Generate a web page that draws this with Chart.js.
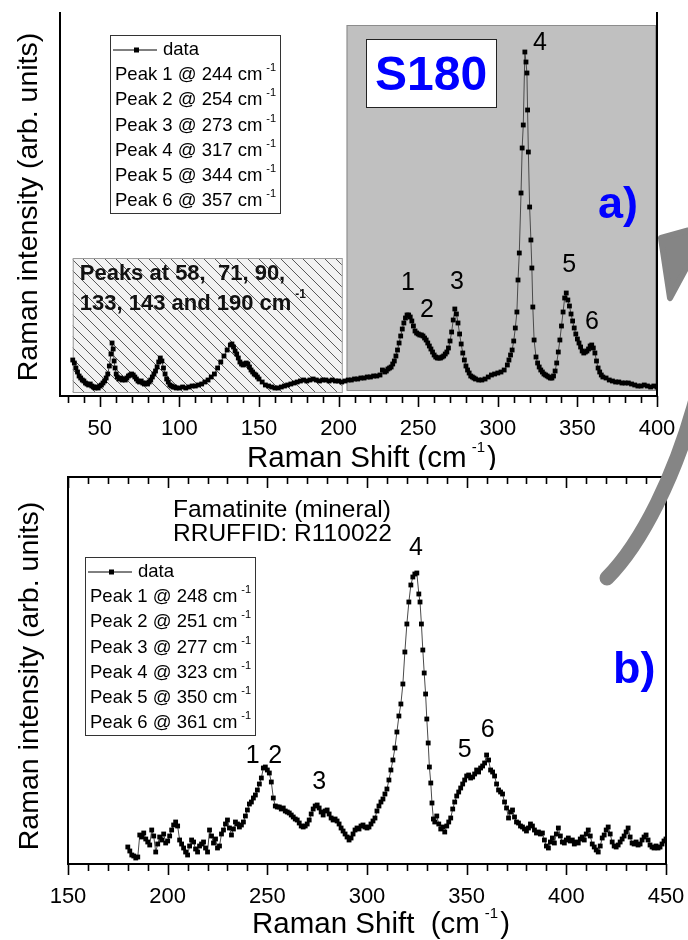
<!DOCTYPE html>
<html>
<head>
<meta charset="utf-8">
<script src="https://cdn.jsdelivr.net/npm/chart.js@4.4.1/dist/chart.umd.min.js"></script>
<style>
  html, body { margin: 0; padding: 0; background: #fff; }
  #wrap { position: relative; width: 688px; height: 940px; overflow: hidden; }
  #chartA { position: absolute; left: 0; top: 0; }
  #chartB { position: absolute; left: 0; top: 470px; }
  #arrow { position: absolute; left: 0; top: 0; pointer-events: none; }
</style>
</head>
<body>
<div id="wrap">
  <canvas id="chartA" width="688" height="470"></canvas>
  <canvas id="chartB" width="688" height="470"></canvas>
  <canvas id="arrow" width="688" height="940"></canvas>
</div>
<script>
// 面板 a) 樣品 S180 的拉曼光譜
const shiftA = [
  33, 34, 35, 36, 37, 38, 39, 40, 41, 42, 43, 44, 45, 46, 47, 48, 49, 50,
  51, 52, 53, 54, 55, 56, 57, 57.7, 58.4, 59, 59.6, 60.3, 61, 62, 63, 64, 65, 66,
  67, 68, 69, 70, 71, 72, 73, 74, 75, 76, 77, 78, 79, 80, 81, 82, 83, 84,
  85, 86, 87, 88, 89, 90, 91, 92, 93, 94, 95, 96, 97, 98, 100, 102, 104, 106,
  108, 110, 112, 114, 116, 118, 120, 122, 124, 126, 128, 130, 132, 133, 134, 135,
  136, 137, 138, 139, 140, 141, 142, 143, 144, 145, 146, 147, 148, 149, 150, 152,
  154, 156, 158, 160, 162, 164, 166, 168, 170, 172, 174, 176, 178, 180, 182, 184,
  186, 188, 190, 192, 194, 196, 198, 200, 202, 204, 206, 208, 210, 212, 214, 216,
  218, 220, 222, 224, 226, 227.5, 229, 230, 231, 232, 233, 234, 235, 236, 237, 238,
  239, 240, 241, 242, 243, 244, 245, 246, 247, 248, 249, 250, 251, 252, 253, 254,
  255, 256, 257, 258, 259, 260, 261, 262, 263, 264, 265, 266, 267, 268, 269, 270,
  271, 272, 273, 274, 275, 276, 277, 278, 279, 280, 281, 282, 283, 284, 285, 286,
  288, 290, 292, 294, 296, 298, 300, 302, 304, 306, 307, 308, 309, 310, 311, 312,
  312.7, 313.5, 314.6, 315.3, 316, 317, 317.7, 318.3, 318.7, 319.2, 320, 320.8, 321.4, 322, 322.8, 324,
  325, 326, 327, 328, 329, 330, 331, 332, 333, 334, 335, 336, 337, 338, 339, 340,
  341, 342, 343, 344, 345, 346, 347, 348, 349, 350, 351, 352, 353, 354, 355, 356,
  357, 358, 359, 360, 361, 362, 363, 364, 365, 366, 368, 370, 372, 374, 376, 378,
  380, 382, 384, 386, 388, 390, 392, 394, 396, 398, 400
];
const intensityA = [
  36, 33, 28, 24, 20, 18, 16, 15, 13, 12, 11, 12, 10, 9, 8, 9, 8, 10,
  11, 13, 15, 18, 22, 30, 42, 53, 47, 35, 28, 22, 19, 17, 18, 16, 17, 16,
  18, 20, 21, 22, 21, 19, 17, 15, 14, 15, 13, 12, 13, 12, 14, 16, 19, 22,
  25, 29, 34, 38, 35, 28, 22, 17, 14, 11, 10, 9, 9, 8, 8, 9, 8, 9,
  10, 10, 11, 12, 14, 16, 19, 22, 28, 34, 40, 46, 51, 52, 49, 45,
  42, 38, 34, 32, 31, 32, 33, 32, 29, 26, 24, 22, 21, 19, 17, 14,
  11, 10, 9, 8, 8, 9, 10, 11, 12, 13, 14, 15, 16, 15, 16, 17,
  16, 15, 16, 16, 15, 16, 15, 15, 14, 15, 16, 16, 17, 17, 18, 18,
  19, 19, 20, 20, 21, 26, 24, 25, 27, 28, 29, 32, 35, 40, 46, 53,
  60, 67, 73, 78, 81, 81, 79, 75, 70, 65, 63, 62, 61, 61, 60, 58,
  56, 53, 50, 47, 44, 41, 39, 38, 38, 38, 39, 40, 42, 44, 48, 55,
  64, 76, 87, 82, 73, 62, 52, 43, 36, 30, 26, 23, 20, 19, 18, 17,
  16, 16, 17, 19, 21, 22, 23, 24, 26, 31, 36, 41, 46, 55, 68, 84,
  116, 143, 203, 248, 271, 344, 334, 323, 286, 244, 189, 156, 128, 89, 56, 39,
  33, 29, 26, 24, 22, 21, 20, 19, 18, 18, 20, 25, 33, 44, 56, 70,
  84, 98, 103, 96, 90, 82, 75, 68, 62, 57, 53, 49, 45, 43, 44, 45,
  47, 50, 51, 48, 43, 35, 28, 24, 21, 19, 18, 16, 15, 14, 14, 13,
  13, 13, 12, 11, 10, 10, 11, 10, 9, 10, 9
];
const peaksA = [244, 254, 273, 317, 344, 357];
const lowPeaksA = [58, 71, 90, 133, 143, 190];
// 峰號標示 (資料座標)
const peakTagA = ['1', '2', '3', '4', '5', '6'];
const peakTagXA = [243.6, 255.5, 274.4, 326.5, 344.8, 359.2];
const peakTagYA = [113, 86, 114, 353, 131, 74];
const grayWindowA = [205, 398.8];
const hatchWindowA = [33, 202];

// 面板 b) Famatinite 礦物參考光譜
const shiftB = [
  180, 181, 182, 183, 184, 185, 186, 187, 188, 189, 190, 191, 192, 193, 194, 195,
  196, 197, 198, 199, 200, 201, 202, 203, 204, 205, 206, 207, 208, 209, 210, 211,
  212, 213, 214, 215, 216, 217, 218, 219, 220, 221, 222, 223, 224, 225, 226, 227,
  228, 229, 230, 231, 232, 233, 234, 235, 236, 237, 238, 239, 240, 241, 242, 243,
  244, 245, 246, 247, 248, 249, 250, 251, 252, 253, 254, 255, 256, 257, 258, 259,
  260, 261, 262, 263, 264, 265, 266, 267, 268, 269, 270, 271, 272, 273, 274, 275,
  276, 277, 278, 279, 280, 281, 282, 283, 284, 285, 286, 287, 288, 289, 290, 291,
  292, 293, 294, 295, 296, 297, 298, 299, 300, 301, 302, 303, 304, 305, 306, 307,
  308, 309, 310, 311, 312, 313, 314, 315, 316, 317, 318, 319, 320, 321, 322, 323,
  324, 325, 326, 326.6, 327.3, 328, 328.7, 329.4, 330, 330.7, 331.3, 332, 332.6, 333.3, 334, 335,
  336, 337, 338, 339, 340, 341, 342, 343, 344, 345, 346, 347, 348, 349, 350, 351,
  352, 353, 354, 355, 356, 357, 358, 359, 360, 361, 362, 363, 364, 365, 366, 367,
  368, 369, 370, 371, 372, 373, 374, 375, 376, 377, 378, 379, 380, 381, 382, 383,
  384, 385, 386, 387, 388, 389, 390, 391, 392, 393, 394, 395, 396, 397, 398, 399,
  400, 401, 402, 403, 404, 405, 406, 407, 408, 409, 410, 411, 412, 413, 414, 415,
  416, 417, 418, 419, 420, 421, 422, 423, 424, 425, 426, 427, 428, 429, 430, 431,
  432, 433, 434, 435, 436, 437, 438, 439, 440, 441, 442, 443, 444, 445, 446, 447,
  448, 449, 450
];
const intensityB = [
  17, 13, 9, 8, 6, 7, 29, 27, 31, 25, 22, 19, 34, 28, 12, 20,
  27, 24, 30, 21, 23, 28, 34, 39, 42, 38, 24, 20, 16, 12, 9, 18,
  24, 22, 15, 12, 18, 20, 22, 16, 12, 34, 28, 21, 25, 16, 18, 30,
  34, 40, 44, 36, 29, 35, 42, 40, 37, 39, 42, 48, 54, 60, 62, 66,
  69, 74, 80, 86, 96, 97, 94, 91, 82, 66, 58, 57, 57, 55, 56, 53,
  52, 51, 49, 47, 45, 44, 41, 38, 37, 38, 40, 44, 50, 55, 58, 59,
  56, 52, 49, 53, 54, 50, 46, 44, 45, 43, 40, 36, 33, 30, 27, 24,
  26, 30, 34, 36, 35, 38, 39, 37, 36, 37, 40, 43, 46, 53, 58, 62,
  65, 70, 75, 84, 94, 104, 116, 132, 148, 160, 180, 212, 240, 262, 279, 287,
  290, 291, 270, 262, 240, 214, 191, 170, 145, 121, 97, 81, 61, 45, 42, 48,
  40, 35, 37, 32, 38, 42, 46, 55, 62, 68, 72, 76, 80, 84, 88, 89,
  86, 87, 90, 94, 92, 96, 98, 101, 109, 104, 94, 92, 88, 80, 74, 72,
  70, 62, 56, 46, 52, 54, 47, 42, 41, 38, 37, 35, 33, 36, 40, 38,
  34, 31, 32, 30, 31, 24, 18, 16, 22, 26, 21, 30, 36, 28, 22, 21,
  24, 26, 23, 24, 20, 22, 21, 25, 27, 24, 30, 34, 28, 20, 17, 14,
  12, 18, 26, 29, 34, 37, 30, 22, 18, 17, 19, 22, 25, 28, 32, 36,
  27, 21, 20, 22, 19, 20, 24, 27, 29, 24, 19, 17, 16, 18, 16, 17,
  20, 23, 25
];
const peaksB = [248, 251, 277, 323, 350, 361];
const peakTagB = ['1', '2', '3', '4', '5', '6'];
const peakTagXB = [242.6, 253.9, 276, 324.6, 349, 360.5];
const peakTagYB = [108, 108, 82, 316, 114, 134];

const FAMILY = '"Liberation Sans", Arial, Helvetica, sans-serif';

function font(size, weight) {
    return `${weight || 'normal'} ${size}px ${FAMILY}`;
}

// 依序畫出一串文字片段 (支援上標)
function drawRuns(ctx, x, y, runs) {
    let cx = x;
    runs.forEach(r => {
        ctx.font = font(r.size, r.weight);
        cx += r.gap || 0;
        ctx.fillText(r.t, cx, y - (r.raise || 0));
        cx += ctx.measureText(r.t).width;
    });
}

// 圖框線
function drawFrame(chart, sides) {
    const {ctx, chartArea: a} = chart;
    ctx.save();
    ctx.strokeStyle = '#000';
    ctx.lineWidth = 2;
    ctx.lineCap = 'square';
    ctx.beginPath();
    if (sides.left) { ctx.moveTo(a.left, a.top); ctx.lineTo(a.left, a.bottom); }
    if (sides.right) { ctx.moveTo(a.right, a.top); ctx.lineTo(a.right, a.bottom); }
    if (sides.bottom) { ctx.moveTo(a.left, a.bottom); ctx.lineTo(a.right, a.bottom); }
    if (sides.top) { ctx.moveTo(a.left, a.top); ctx.lineTo(a.right, a.top); }
    ctx.stroke();
    ctx.restore();
}

// 主刻度每 50、次刻度每 10
function drawXTicks(chart, withTop) {
    const {ctx, chartArea: a, scales: {x}} = chart;
    ctx.save();
    ctx.strokeStyle = '#000';
    ctx.lineWidth = 1.6;
    ctx.beginPath();
    for (let v = Math.ceil(x.min / 10) * 10; v <= x.max; v += 10) {
        const px = Math.round(x.getPixelForValue(v)) + 0.5;
        const len = v % 50 === 0 ? 11 : 7;
        ctx.moveTo(px, a.bottom);
        ctx.lineTo(px, a.bottom + len);
        if (withTop) {
            ctx.moveTo(px, a.top);
            ctx.lineTo(px, a.top + len);
        }
    }
    ctx.stroke();
    ctx.restore();
}

function drawYTitle(ctx, x, y) {
    ctx.save();
    ctx.translate(x, y);
    ctx.rotate(-Math.PI / 2);
    ctx.fillStyle = '#000';
    ctx.font = font(28.5);
    ctx.textAlign = 'center';
    ctx.textBaseline = 'alphabetic';
    ctx.fillText('Raman intensity (arb. units)', 0, 0);
    ctx.restore();
}

function drawXTitle(ctx, x, y, label) {
    ctx.save();
    ctx.fillStyle = '#000';
    ctx.textBaseline = 'alphabetic';
    drawRuns(ctx, x, y, [
        {t: label + '(cm', size: 29.5},
        {t: '-1', size: 15, raise: 15, gap: 5},
        {t: ')', size: 29.5, gap: 2}
    ]);
    ctx.restore();
}

// 圖例: data 符號 + 各峰位置
function drawPeakLegend(ctx, bx, by, peaks) {
    const w = 170, h = 178, row = 25.2, first = 15;
    ctx.save();
    ctx.fillStyle = '#fff';
    ctx.fillRect(bx, by, w, h);
    ctx.strokeStyle = '#333';
    ctx.lineWidth = 1;
    ctx.strokeRect(bx + 0.5, by + 0.5, w, h);

    const y0 = by + first;
    ctx.strokeStyle = '#000';
    ctx.beginPath();
    ctx.moveTo(bx + 3, y0);
    ctx.lineTo(bx + 47, y0);
    ctx.stroke();
    ctx.fillStyle = '#000';
    ctx.fillRect(bx + 24, y0 - 2.5, 5, 5);

    ctx.textBaseline = 'middle';
    ctx.font = font(18.5);
    ctx.fillText('data', bx + 53, y0);
    peaks.forEach((p, i) => {
        drawRuns(ctx, bx + 5, y0 + row * (i + 1), [
            {t: `Peak ${i + 1} @ ${p} cm`, size: 18.5},
            {t: '-1', size: 11, raise: 7, gap: 4}
        ]);
    });
    ctx.restore();
}

function drawPeakTags(chart, tags, xs, ys) {
    const {ctx, scales: {x, y}} = chart;
    ctx.save();
    ctx.fillStyle = '#000';
    ctx.font = font(25);
    ctx.textAlign = 'center';
    ctx.textBaseline = 'middle';
    tags.forEach((t, i) => {
        ctx.fillText(t, x.getPixelForValue(xs[i]), y.getPixelForValue(ys[i]));
    });
    ctx.restore();
}

function makeHatch(ctx) {
    const c = document.createElement('canvas');
    c.width = 11; c.height = 11;
    const g = c.getContext('2d');
    g.fillStyle = '#f2f2f2';
    g.fillRect(0, 0, 11, 11);
    g.strokeStyle = '#5a5a5a';
    g.lineWidth = 1;
    g.beginPath();
    g.moveTo(-1, -1); g.lineTo(12, 12);
    g.moveTo(-1, 10); g.lineTo(1, 12);
    g.moveTo(10, -1); g.lineTo(12, 1);
    g.stroke();
    return ctx.createPattern(c, 'repeat');
}

const panelA = {
    id: 'panelA',
    beforeDatasetsDraw(chart) {
        const {ctx, scales: {x, y}} = chart;
        ctx.save();
        // 灰底: 主要聲子區
        const gx0 = x.getPixelForValue(grayWindowA[0]);
        const gx1 = x.getPixelForValue(grayWindowA[1]);
        const gy0 = y.getPixelForValue(371);
        const gy1 = y.getPixelForValue(6);
        ctx.fillStyle = '#c0c0c0';
        ctx.fillRect(gx0, gy0, gx1 - gx0, gy1 - gy0);
        ctx.strokeStyle = '#8c8c8c';
        ctx.lineWidth = 1;
        ctx.strokeRect(gx0 + 0.5, gy0 + 0.5, gx1 - gx0, gy1 - gy0);

        // 斜線區: 低頻峰
        const hx0 = x.getPixelForValue(hatchWindowA[0]);
        const hx1 = x.getPixelForValue(hatchWindowA[1]);
        const hy0 = y.getPixelForValue(138);
        const hy1 = y.getPixelForValue(4);
        ctx.fillStyle = makeHatch(ctx);
        ctx.fillRect(hx0, hy0, hx1 - hx0, hy1 - hy0);
        ctx.strokeStyle = '#9a9a9a';
        ctx.strokeRect(hx0 + 0.5, hy0 + 0.5, hx1 - hx0, hy1 - hy0);

        ctx.fillStyle = '#111';
        ctx.textBaseline = 'middle';
        const lp = lowPeaksA;
        drawRuns(ctx, hx0 + 7, hy0 + 16, [
            {t: `Peaks at ${lp[0]},  ${lp[1]}, ${lp[2]},`, size: 22, weight: 'bold'}
        ]);
        drawRuns(ctx, hx0 + 7, hy0 + 46, [
            {t: `${lp[3]}, ${lp[4]} and ${lp[5]} cm`, size: 22, weight: 'bold'},
            {t: '-1', size: 12, raise: 9, gap: 4, weight: 'bold'}
        ]);

        // 樣品名稱框
        ctx.fillStyle = '#fff';
        ctx.fillRect(366, 39, 130, 68);
        ctx.strokeStyle = '#222';
        ctx.strokeRect(366.5, 39.5, 130, 68);
        ctx.fillStyle = '#0000ff';
        ctx.font = font(48, 'bold');
        ctx.textBaseline = 'alphabetic';
        ctx.fillText('S180', 375, 90);
        ctx.restore();
    },
    afterDraw(chart) {
        const ctx = chart.ctx;
        drawFrame(chart, {left: true, right: true, bottom: true});
        drawXTicks(chart, false);
        drawXTitle(ctx, 247, 467, 'Raman Shift ');
        drawYTitle(ctx, 37, 207);
        drawPeakLegend(ctx, 110, 35, peaksA);
        drawPeakTags(chart, peakTagA, peakTagXA, peakTagYA);
        ctx.save();
        ctx.fillStyle = '#0000ff';
        ctx.font = font(45, 'bold');
        ctx.fillText('a)', 598, 218);
        ctx.restore();
    }
};

const panelB = {
    id: 'panelB',
    afterDraw(chart) {
        const ctx = chart.ctx;
        drawFrame(chart, {left: true, right: true, bottom: true, top: true});
        drawXTicks(chart, true);
        drawXTitle(ctx, 252, 463, 'Raman Shift  ');
        drawYTitle(ctx, 38, 206);
        drawPeakLegend(ctx, 85, 87, peaksB);
        drawPeakTags(chart, peakTagB, peakTagXB, peakTagYB);
        ctx.save();
        ctx.fillStyle = '#000';
        ctx.font = font(24.5);
        ctx.fillText('Famatinite (mineral)', 173, 47);
        ctx.fillText('RRUFFID: R110022', 173, 71);
        ctx.fillStyle = '#0000ff';
        ctx.font = font(45, 'bold');
        ctx.fillText('b)', 613, 213);
        ctx.restore();
    }
};

function spectrumChart(canvasId, xs, ys, range, pad, axisH, plugin) {
    return new Chart(document.getElementById(canvasId), {
        type: 'scatter',
        data: {
            datasets: [{
                label: 'data',
                data: xs.map((v, i) => ({x: v, y: ys[i]})),
                showLine: true,
                borderColor: '#4a4a4a',
                borderWidth: 1,
                pointStyle: 'rect',
                pointRadius: 3.4,
                pointBorderWidth: 0,
                pointBackgroundColor: '#000'
            }]
        },
        options: {
            responsive: false,
            animation: false,
            layout: {padding: pad},
            plugins: {legend: {display: false}, tooltip: {enabled: false}},
            scales: {
                x: {
                    type: 'linear',
                    min: range.xMin,
                    max: range.xMax,
                    grid: {display: false, drawTicks: false},
                    border: {display: false},
                    ticks: {
                        stepSize: 50,
                        includeBounds: false,
                        padding: 20,
                        color: '#000',
                        font: {family: FAMILY, size: 22}
                    },
                    afterFit(scale) {
                        // 圖區邊界由 layout.padding 決定, 不讓首末刻度標籤再擠壓
                        scale.height = axisH;
                        scale.paddingLeft = 0;
                        scale.paddingRight = 0;
                    }
                },
                y: {display: false, min: 0, max: range.yMax}
            }
        },
        plugins: [plugin]
    });
}

spectrumChart('chartA', shiftA, intensityA, {xMin: 25, xMax: 400, yMax: 383},
    {left: 60, right: 31, top: 13, bottom: 0}, 74, panelA);
spectrumChart('chartB', shiftB, intensityB, {xMin: 150, xMax: 450, yMax: 387},
    {left: 68, right: 22, top: 7, bottom: 0}, 76, panelB);

// 從 b) 指向 a) 的灰色彎箭頭
(function drawArrow() {
    const ctx = document.getElementById('arrow').getContext('2d');
    ctx.strokeStyle = '#858585';
    ctx.fillStyle = '#858585';
    ctx.lineWidth = 15;
    ctx.lineCap = 'round';
    ctx.beginPath();
    ctx.moveTo(607, 578);
    ctx.bezierCurveTo(680, 505, 735, 300, 698, 268);
    ctx.stroke();
    ctx.lineWidth = 6;
    ctx.lineJoin = 'round';
    ctx.beginPath();
    ctx.moveTo(661, 238);
    ctx.lineTo(710, 224);
    ctx.lineTo(670, 298);
    ctx.closePath();
    ctx.fill();
    ctx.stroke();
})();
</script>
</body>
</html>
